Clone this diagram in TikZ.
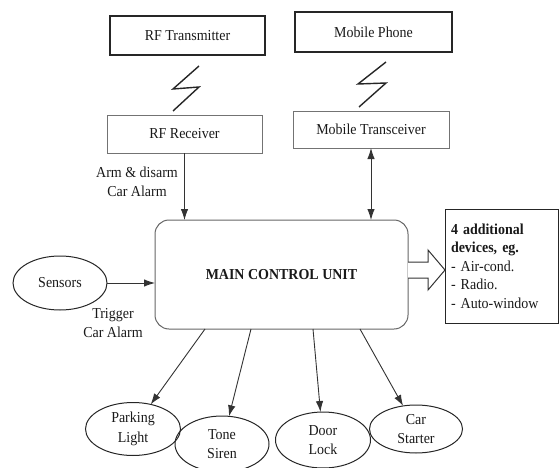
\documentclass[tikz,border=0pt]{standalone}
\usepackage{fontspec}
\setmainfont{Liberation Serif}[FakeStretch=0.92]
\usetikzlibrary{arrows.meta,shapes.geometric}
\begin{document}
\begin{tikzpicture}[x=1pt,y=-1pt,
  every node/.style={font=\fontsize{15.2}{19.5}\selectfont, text=black!90, inner sep=0pt, outer sep=0pt},
  solidbox/.style={draw=black!85, line width=1.3pt, rectangle},
  softbox/.style={draw=black!55, line width=0.9pt, rectangle},
  oval/.style={draw=black!85, line width=1pt, ellipse, align=center},
  arr/.style={draw=black!80, line width=0.9pt, -{Latex[length=11pt,width=7.5pt]}},
  dblarr/.style={draw=black!80, line width=0.9pt, {Latex[length=11pt,width=7.5pt]}-{Latex[length=11pt,width=7.5pt]}},
  bolt/.style={draw=black!85, line width=1.4pt},
  lbl/.style={align=center}
]
\useasboundingbox (0,0) rectangle (559,468);

% top boxes
\node[solidbox, minimum width=155pt, minimum height=39pt] (rft) at (187.5,35.5) {RF Transmitter};
\node[solidbox, minimum width=157pt, minimum height=40pt] (mph) at (373.5,32) {Mobile Phone};
\node[softbox, minimum width=155pt, minimum height=38pt] (rfr) at (184.5,134) {RF Receiver};
\node[softbox, minimum width=156pt, minimum height=37pt] (mtr) at (371,129.5) {Mobile Transceiver};

% lightning bolts
\draw[bolt] (199,66) -- (173,89) -- (199,87) -- (173,111);
\draw[bolt] (386,62) -- (358,84) -- (386,83) -- (359,107);

% main control unit
\node[draw=black!60, line width=1pt, rounded corners=14pt, minimum width=253pt, minimum height=109pt,
      font=\fontsize{15.2}{19.5}\selectfont\bfseries] (mcu) at (281.5,274.5) {MAIN CONTROL UNIT};

% sensors
\node[oval, minimum width=94pt, minimum height=54pt] (sens) at (60,283) {Sensors};

% additional devices
\node[solidbox, line width=1pt, minimum width=113pt, minimum height=114pt, align=left, text width=101pt,
      font=\fontsize{15.2}{18.5}\selectfont] (dev) at (501.5,266)
  {\textbf{4 additional}\\\textbf{devices, eg.}\\- Air-cond.\\- Radio.\\- Auto-window};

% bottom ovals
\node[oval, minimum width=95pt, minimum height=53pt] (park) at (133,429) {Parking\\Light};
\node[oval, minimum width=94pt, minimum height=56pt] (tone) at (222,444) {Tone\\Siren};
\node[oval, minimum width=95pt, minimum height=56pt] (door) at (323,440) {Door\\Lock};
\node[oval, minimum width=93pt, minimum height=48pt] (start) at (416,429) {Car\\Starter};

% labels
\node[lbl] (armlbl) at (137,182) {Arm \& disarm\\Car Alarm};
\node[lbl] (triglbl) at (113,323) {Trigger\\Car Alarm};

% connectors
\draw[arr] (rfr.south) -- (rfr.south |- mcu.north);
\draw[dblarr] (mtr.south) -- (mtr.south |- mcu.north);
\draw[arr] (sens.east) -- (sens.east -| mcu.west);

\draw[arr] ([xshift=-76.5pt]mcu.south) -- (park);
\draw[arr] ([xshift=-30.5pt]mcu.south) -- (tone);
\draw[arr] ([xshift=31.5pt]mcu.south) -- (door);
\draw[arr] ([xshift=78.5pt]mcu.south) -- (start);

% hollow arrow
\coordinate (h0) at ([yshift=4.5pt]mcu.east);
\draw[draw=black!80, line width=1pt, fill=white]
  (h0) ++(0,-8) -- ++(20,0) -- ++(0,-12) -- ++(17,20) -- ++(-17,20) -- ++(0,-12) -- ++(-20,0);
\end{tikzpicture}
\end{document}
